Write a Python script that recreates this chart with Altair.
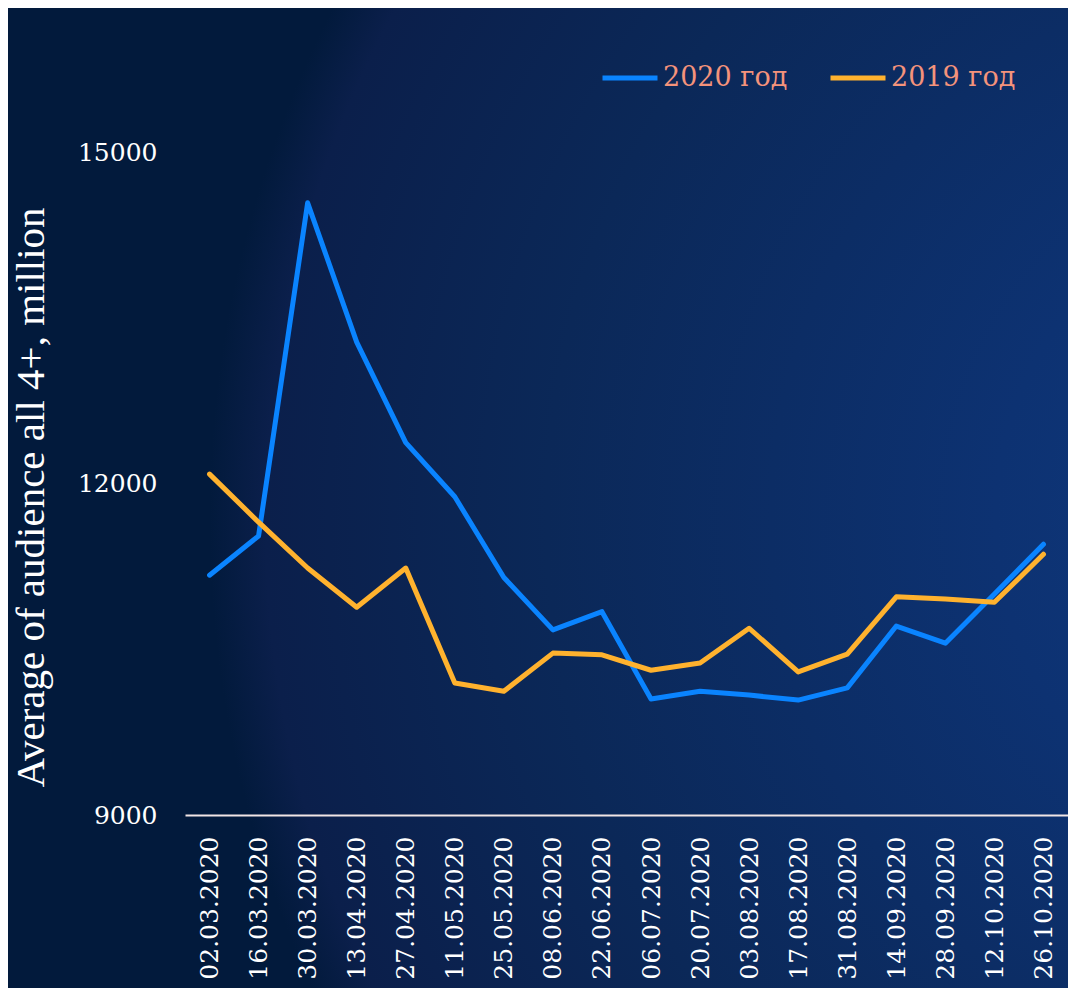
import altair as alt
import pandas as pd

dates = ["02.03.2020", "16.03.2020", "30.03.2020", "13.04.2020", "27.04.2020",
         "11.05.2020", "25.05.2020", "08.06.2020", "22.06.2020", "06.07.2020",
         "20.07.2020", "03.08.2020", "17.08.2020", "31.08.2020", "14.09.2020",
         "28.09.2020", "12.10.2020", "26.10.2020"]
v2020 = [11170, 11525, 14540, 13280, 12370, 11880, 11150, 10675, 10840, 10050,
         10120, 10085, 10040, 10150, 10710, 10555, 11000, 11450]
v2019 = [12085, 11650, 11235, 10880, 11235, 10195, 10120, 10465, 10450, 10310,
         10375, 10690, 10295, 10455, 10975, 10955, 10925, 11360]
series = ["2020 год", "2019 год"]
colors = ["#0a84ff", "#ffb22e"]
y_ticks = [9000, 12000, 15000]

rows = []
for d, a, b in zip(dates, v2020, v2019):
    rows.append({"date": d, "value": a, "series": series[0]})
    rows.append({"date": d, "value": b, "series": series[1]})
df = pd.DataFrame(rows)

W, H = 883, 663
PL, PT = 177, 144
TOTAL_H = 980

grad = alt.RadialGradient(
    gradient="radial",
    x1=1.25, y1=0.52, r1=0.0,
    x2=1.25, y2=0.52, r2=1.06,
    stops=[
        alt.GradientStop(color="#103a80", offset=0.0),
        alt.GradientStop(color="#0d3272", offset=0.3),
        alt.GradientStop(color="#0b2858", offset=0.7),
        alt.GradientStop(color="#0b1f4b", offset=0.95),
        alt.GradientStop(color="#021a3c", offset=1.0),
    ],
)

bg = alt.Chart(pd.DataFrame({"a": [0]})).mark_rect(fill=grad, stroke=None).encode(
    x=alt.value(-PL), x2=alt.value(W), y=alt.value(-PT), y2=alt.value(TOTAL_H - PT)
)

lines = alt.Chart(df).mark_line(strokeWidth=5, strokeCap="round", strokeJoin="round").encode(
    x=alt.X("date:N", sort=dates, scale=alt.Scale(type="point", padding=0.5),
            axis=alt.Axis(title=None, labelAngle=270, labelFont="DejaVu Serif",
                          labelFontSize=25, labelColor="white", labelPadding=21,
                          ticks=False, domainColor="#f2e6e6", domainWidth=2,
                          labelOverlap=False, grid=False, zindex=1)),
    y=alt.Y("value:Q", scale=alt.Scale(domain=[9000, 15000], nice=False, zero=False),
            axis=alt.Axis(title="Average of audience all 4+,  million", values=y_ticks,
                          format="d",
                          titleFont="Liberation Serif", titleFontSize=41,
                          titleFontWeight="normal", titleColor="white",
                          titleAngle=270, titleX=-154, titleY=345,
                          titleAlign="center", titleBaseline="middle",
                          labelFont="DejaVu Serif", labelFontSize=25,
                          labelColor="white", labelPadding=28, ticks=False,
                          domain=False, grid=False, zindex=1)),
    color=alt.Color("series:N", sort=series,
                    scale=alt.Scale(domain=series, range=colors),
                    legend=alt.Legend(title=None, orient="none", direction="horizontal",
                                      legendX=415, legendY=-104, symbolType="stroke",
                                      symbolSize=3025, symbolStrokeWidth=5,
                                      labelFont="DejaVu Serif", labelFontSize=27,
                                      labelColor="#f4937b", labelOffset=3,
                                      columnPadding=32, zindex=1)),
)

chart = alt.layer(bg, lines).properties(width=W, height=H, padding=0).configure_view(
    stroke=None
).configure(background="#021a3c")

chart.save("out.html", embed_options={"renderer": "svg", "actions": False})
